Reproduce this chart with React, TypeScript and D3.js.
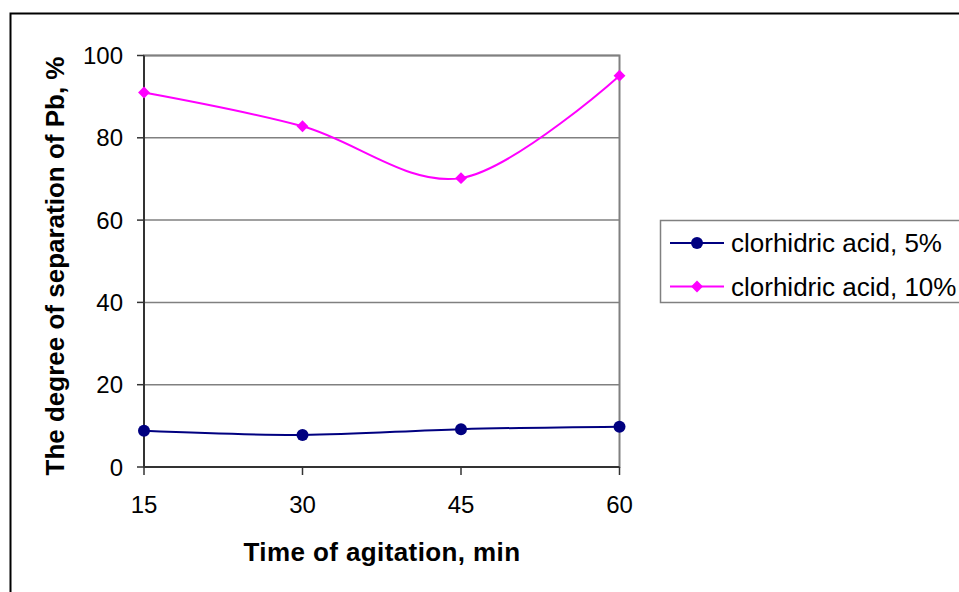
import React, { useEffect, useRef } from 'react';
import * as d3 from 'd3';

const categories = ['15', '30', '45', '60'];
const yTicks = [0, 20, 40, 60, 80, 100];
const acid5 = [8.8, 7.8, 9.2, 9.8];
const acid10 = [91, 82.8, 70.2, 95.1];

const seriesList = [
  { name: 'clorhidric acid, 5%', values: acid5, color: '#000080', marker: 'circle' },
  { name: 'clorhidric acid, 10%', values: acid10, color: '#FF00FF', marker: 'diamond' },
];

export default function App() {
  const svgRef = useRef<SVGSVGElement>(null);

  useEffect(() => {
    if (!svgRef.current) return;
    const svg = d3.select(svgRef.current);
    svg.selectAll('*').remove();

    const font = 'Liberation Sans, Arial, sans-serif';

    // chart frame
    svg.append('rect')
      .attr('x', 10.5).attr('y', 13.5)
      .attr('width', 960).attr('height', 600)
      .attr('fill', '#fff').attr('stroke', '#000').attr('stroke-width', 2);

    const left = 144, right = 619.5, top = 55.5, bottom = 467;

    const x = d3.scalePoint<string>().domain(categories).range([left, right]);
    const y = d3.scaleLinear().domain([0, 100]).range([bottom, top]);

    // plot area border (grey)
    svg.append('rect')
      .attr('x', left).attr('y', top)
      .attr('width', right - left).attr('height', bottom - top)
      .attr('fill', 'none').attr('stroke', '#808080').attr('stroke-width', 2);

    // grid lines
    svg.append('g').selectAll('line')
      .data(yTicks.filter(d => d > 0))
      .join('line')
      .attr('x1', left).attr('x2', right)
      .attr('y1', d => y(d)).attr('y2', d => y(d))
      .attr('stroke', '#808080').attr('stroke-width', 1.5);

    // y axis
    const yAxis = svg.append('g');
    yAxis.append('line')
      .attr('x1', left).attr('x2', left).attr('y1', top).attr('y2', bottom)
      .attr('stroke', '#333').attr('stroke-width', 2);
    yAxis.selectAll('line.tick')
      .data(yTicks)
      .join('line')
      .attr('class', 'tick')
      .attr('x1', left - 7).attr('x2', left)
      .attr('y1', d => y(d)).attr('y2', d => y(d))
      .attr('stroke', '#333').attr('stroke-width', 1.5);
    yAxis.selectAll('text')
      .data(yTicks)
      .join('text')
      .attr('x', 123).attr('y', d => y(d) + 8.5)
      .attr('text-anchor', 'end')
      .style('font', `24px ${font}`)
      .text(d => d);

    // x axis
    const xAxis = svg.append('g');
    xAxis.append('line')
      .attr('x1', left).attr('x2', right).attr('y1', bottom).attr('y2', bottom)
      .attr('stroke', '#333').attr('stroke-width', 2);
    xAxis.selectAll('line.tick')
      .data(categories)
      .join('line')
      .attr('class', 'tick')
      .attr('x1', d => x(d)!).attr('x2', d => x(d)!)
      .attr('y1', bottom).attr('y2', bottom + 8)
      .attr('stroke', '#333').attr('stroke-width', 1.5);
    xAxis.selectAll('text')
      .data(categories)
      .join('text')
      .attr('x', d => x(d)!).attr('y', 513)
      .attr('text-anchor', 'middle')
      .style('font', `24px ${font}`)
      .text(d => d);

    // axis titles
    svg.append('text')
      .attr('x', 382).attr('y', 561)
      .attr('text-anchor', 'middle')
      .style('font', `bold 26px ${font}`)
      .style('letter-spacing', '0.4px')
      .text('Time of agitation, min');
    svg.append('text')
      .attr('transform', `translate(64,266) rotate(-90)`)
      .attr('text-anchor', 'middle')
      .style('font', `bold 26px ${font}`)
      .text('The degree of separation of Pb, %');

    // series
    const line = d3.line<number>()
      .x((_, i) => x(categories[i])!)
      .y(d => y(d))
      .curve(d3.curveCatmullRom.alpha(0));

    const diamond = d3.symbol().type(d3.symbolDiamond2).size(90);

    seriesList.forEach(s => {
      svg.append('path')
        .attr('d', line(s.values))
        .attr('fill', 'none')
        .attr('stroke', s.color)
        .attr('stroke-width', 2);
      const g = svg.append('g');
      s.values.forEach((v, i) => {
        const cx = x(categories[i])!;
        const cy = y(v);
        if (s.marker === 'circle') {
          g.append('circle').attr('cx', cx).attr('cy', cy).attr('r', 6).attr('fill', s.color);
        } else {
          g.append('path').attr('d', diamond()!).attr('transform', `translate(${cx},${cy})`).attr('fill', s.color);
        }
      });
    });

    // legend
    const legend = svg.append('g');
    legend.append('rect')
      .attr('x', 660.5).attr('y', 220.5)
      .attr('width', 310).attr('height', 82)
      .attr('fill', '#fff').attr('stroke', '#808080').attr('stroke-width', 1.5);
    seriesList.forEach((s, i) => {
      const ly = 243 + i * 43.5;
      legend.append('line')
        .attr('x1', 670).attr('x2', 724).attr('y1', ly).attr('y2', ly)
        .attr('stroke', s.color).attr('stroke-width', 2);
      if (s.marker === 'circle') {
        legend.append('circle').attr('cx', 697).attr('cy', ly).attr('r', 6).attr('fill', s.color);
      } else {
        legend.append('path').attr('d', diamond()!).attr('transform', `translate(697,${ly})`).attr('fill', s.color);
      }
      legend.append('text')
        .attr('x', 731).attr('y', ly + 9)
        .style('font', `26px ${font}`)
        .text(s.name);
    });
  }, []);

  return (
    <svg
      ref={svgRef}
      width={959}
      height={592}
      style={{ position: 'absolute', left: 0, top: 0, background: '#fff' }}
    />
  );
}
